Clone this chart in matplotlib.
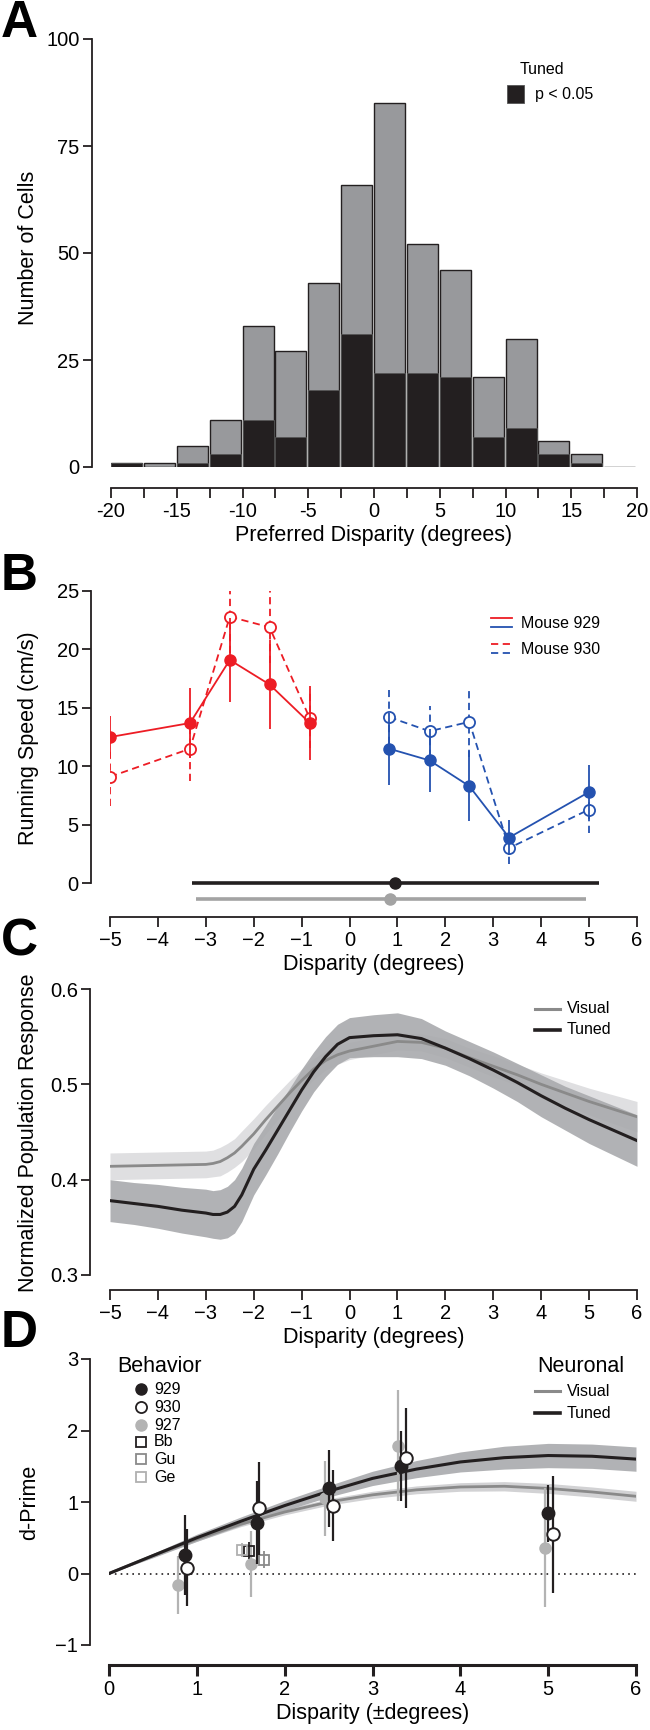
import numpy as np
import matplotlib
matplotlib.use('Agg')
import matplotlib.pyplot as plt
from matplotlib.lines import Line2D
from matplotlib.patches import Rectangle

plt.rcParams['font.family'] = ['Liberation Sans', 'DejaVu Sans']

# ---------------- data ----------------
# A: histogram of preferred disparity
bin_left = [-20, -17.5, -15, -12.5, -10, -7.5, -5, -2.5, 0, 2.5, 5, 7.5, 10, 12.5, 15, 17.5]
count_all = [1, 1, 5, 11, 33, 27, 43, 66, 85, 52, 46, 21, 30, 6, 3, 0]
count_tuned = [1, 0, 1, 3, 11, 7, 18, 31, 22, 22, 21, 7, 9, 3, 1, 0]

# B: running speed
red_x = [-5, -3.33, -2.5, -1.67, -0.83]
red929 = [12.5, 13.7, 19.1, 17.0, 13.7]
red929_err = [1.8, 3.0, 3.6, 3.8, 3.2]
red930 = [9.1, 11.5, 22.8, 21.9, 14.1]
red930_err = [2.5, 2.8, 3.1, 3.1, 2.5]
blue_x = [0.83, 1.67, 2.5, 3.33, 5]
blue929 = [11.5, 10.5, 8.3, 3.9, 7.8]
blue929_err = [3.1, 2.7, 3.0, 1.5, 2.3]
blue930 = [14.2, 13.0, 13.8, 3.0, 6.3]
blue930_err = [2.3, 2.2, 3.0, 1.4, 2.0]
range_mid = [0.95, 0.85]
range_lo = [-3.29, -3.2]
range_hi = [5.21, 4.93]
range_y = [0, -1.4]

# C: population response
c_x = [-5, -4.5, -4, -3.5, -3, -2.85, -2.7, -2.55, -2.4, -2.25, -2, -1.75, -1.5, -1.25,
       -1, -0.75, -0.5, -0.25, 0, 0.5, 1, 1.5, 2, 2.5, 3, 3.5, 4, 4.5, 5, 5.5, 6]
c_visual = [0.414, 0.4145, 0.415, 0.4155, 0.416, 0.417, 0.419, 0.423, 0.428, 0.435,
            0.448, 0.463, 0.477, 0.491, 0.504, 0.516, 0.525, 0.531, 0.535, 0.540,
            0.545, 0.544, 0.538, 0.528, 0.519, 0.510, 0.500, 0.491, 0.482, 0.474, 0.466]
c_visual_se = [0.014, 0.014, 0.014, 0.014, 0.014, 0.014, 0.015, 0.015, 0.015, 0.016,
               0.016, 0.015, 0.014, 0.013, 0.012, 0.011, 0.010, 0.010, 0.009, 0.009,
               0.009, 0.009, 0.010, 0.010, 0.011, 0.011, 0.012, 0.013, 0.014, 0.015, 0.016]
c_tuned = [0.378, 0.375, 0.372, 0.368, 0.365, 0.3635, 0.3635, 0.366, 0.372, 0.384,
           0.411, 0.431, 0.452, 0.473, 0.494, 0.513, 0.529, 0.542, 0.549, 0.551,
           0.552, 0.548, 0.538, 0.527, 0.515, 0.502, 0.488, 0.475, 0.463, 0.452, 0.441]
c_tuned_se = [0.022, 0.022, 0.023, 0.024, 0.025, 0.025, 0.026, 0.027, 0.028, 0.028,
              0.027, 0.026, 0.025, 0.023, 0.022, 0.021, 0.021, 0.021, 0.021, 0.022,
              0.023, 0.021, 0.018, 0.018, 0.019, 0.020, 0.022, 0.023, 0.025, 0.026, 0.027]

# D: d-prime
d_x = [0, 0.5, 1, 1.5, 2, 2.5, 3, 3.5, 4, 4.5, 5, 5.5, 6]
d_tuned = [0, 0.25, 0.5, 0.73, 0.95, 1.15, 1.33, 1.46, 1.56, 1.62, 1.65, 1.64, 1.60]
d_tuned_se = [0, 0.03, 0.05, 0.06, 0.07, 0.08, 0.10, 0.12, 0.14, 0.16, 0.17, 0.17, 0.17]
d_visual = [0, 0.25, 0.48, 0.69, 0.86, 1.0, 1.1, 1.17, 1.21, 1.22, 1.19, 1.14, 1.08]
d_visual_se = [0, 0.02, 0.03, 0.035, 0.04, 0.045, 0.05, 0.055, 0.06, 0.065, 0.07, 0.07, 0.07]

x929 = [0.87, 1.68, 2.50, 3.33, 5.00]
y929 = [0.26, 0.71, 1.19, 1.50, 0.84]
e929 = [0.56, 0.58, 0.54, 0.49, 0.40]
x930 = [0.89, 1.71, 2.55, 3.38, 5.05]
y930 = [0.08, 0.91, 0.95, 1.62, 0.55]
e930 = [0.54, 0.65, 0.50, 0.70, 0.82]
x927 = [0.79, 1.62, 2.46, 3.29, 4.96]
y927 = [-0.16, 0.13, 1.05, 1.79, 0.36]
e927 = [0.40, 0.46, 0.53, 0.78, 0.83]
monkeys = ['Bb', 'Gu', 'Ge']
monkey_x = [1.59, 1.77, 1.51]
monkey_y = [0.32, 0.19, 0.33]
monkey_e = [0.12, 0.12, 0.10]

# ---------------- style ----------------
W, H = 650, 1730
TICK = 14.5
LAB = 15.5
LEG = 11.5
INK = '#231f20'
RED = '#ed1c24'
BLUE = '#2452b0'
VIS_LINE = '#8a8a8a'
VIS_BAND = '#dfdfe1'
TUN_BAND = '#a9aaad'

fig = plt.figure(figsize=(W / 100, H / 100), dpi=100)


def add_ax(l, t, r, b):
    return fig.add_axes([l / W, 1 - b / H, (r - l) / W, (b - t) / H])


def fx(x):
    return x / W


def fy(y):
    return 1 - y / H


def style(ax, left_off, bottom_off, xtl=7, bottom_lw=1.3):
    ax.spines['top'].set_visible(False)
    ax.spines['right'].set_visible(False)
    ax.spines['left'].set_position(('outward', left_off))
    ax.spines['bottom'].set_position(('outward', bottom_off))
    ax.spines['left'].set_linewidth(1.3)
    ax.spines['bottom'].set_linewidth(bottom_lw)
    ax.spines['left'].set_color(INK)
    ax.spines['bottom'].set_color(INK)
    ax.tick_params(axis='y', length=6.5, width=1.3, labelsize=TICK, pad=2, color=INK)
    ax.tick_params(axis='x', length=xtl, width=bottom_lw, labelsize=TICK, pad=3, color=INK)
    ax.patch.set_visible(False)


def flabel(x, y, s, **kw):
    fig.text(fx(x), fy(y), s, **kw)


def fline(x1, x2, y, **kw):
    fig.add_artist(Line2D([fx(x1), fx(x2)], [fy(y), fy(y)], transform=fig.transFigure, **kw))


# ---------------- A ----------------
axA = add_ax(111, 39, 637, 467)
axA.bar(bin_left, count_all, width=2.36, align='edge', color='#98999c',
        edgecolor=INK, linewidth=1.0, zorder=2)
axA.bar(bin_left, count_tuned, width=2.36, align='edge', color=INK,
        edgecolor='#555555', linewidth=0.6, zorder=3)
axA.set_xlim(-20, 20)
axA.set_ylim(0, 100)
axA.set_yticks([0, 25, 50, 75, 100])
axA.set_xticks(bin_left + [20])
axA.set_xticklabels([('%d' % v) if v % 5 == 0 else '' for v in bin_left + [20]])
style(axA, 14, 15)
axA.set_xlabel('Preferred Disparity (degrees)', fontsize=LAB, labelpad=3)
axA.set_ylabel('Number of Cells', fontsize=LAB, va='center')
axA.yaxis.set_label_coords((29 - 111) / 526, 0.512)

flabel(542, 69, 'Tuned', fontsize=LEG, ha='center', va='center')
fig.add_artist(Rectangle((fx(507), fy(103)), 17 / W, 18 / H, transform=fig.transFigure,
                         facecolor=INK, edgecolor='#555555', lw=0.6))
flabel(535, 95, 'p < 0.05', fontsize=LEG, ha='left', va='center')

# ---------------- B ----------------
axB = add_ax(110, 591, 637, 917)


def speed(ax, x, y, e, col, filled):
    if filled:
        eb = ax.errorbar(x, y, yerr=e, fmt='o-', color=col, mfc=col, mec=col, ms=8,
                         lw=1.3, elinewidth=1.3, capsize=0, zorder=4)
    else:
        eb = ax.errorbar(x, y, yerr=e, fmt='o', color=col, mfc='white', mec=col,
                         mew=1.3, ms=8, lw=1.3, elinewidth=1.3, capsize=0, zorder=3)
        eb[0].set_linestyle((0, (4, 2.5)))
        eb[2][0].set_linestyle((0, (4, 2.5)))


speed(axB, red_x, red929, red929_err, RED, True)
speed(axB, red_x, red930, red930_err, RED, False)
speed(axB, blue_x, blue929, blue929_err, BLUE, True)
speed(axB, blue_x, blue930, blue930_err, BLUE, False)

for mid, lo, hi, yy, col in zip(range_mid, range_lo, range_hi, range_y, [INK, '#a3a3a3']):
    axB.errorbar([mid], [yy], xerr=[[mid - lo], [hi - mid]], fmt='o', color=col, ms=8,
                 elinewidth=2.6, capsize=0, clip_on=False, zorder=5)

axB.set_xlim(-5, 6)
axB.set_ylim(-2.9, 25)
axB.set_yticks([0, 5, 10, 15, 20, 25])
axB.set_xticks(range(-5, 7))
style(axB, 14, 0)
axB.spines['left'].set_bounds(0, 25)
axB.set_xlabel('Disparity (degrees)', fontsize=LAB, labelpad=3)
axB.set_ylabel('Running Speed (cm/s)', fontsize=LAB, va='center')
axB.yaxis.set_label_coords((29 - 110) / 527, 0.549)

fline(491, 512, 618, color=RED, lw=1.3)
fline(491, 512, 627, color=BLUE, lw=1.3)
fline(491, 512, 644, color=RED, lw=1.3, ls=(0, (4, 2.5)))
fline(491, 512, 653, color=BLUE, lw=1.3, ls=(0, (4, 2.5)))
flabel(521, 623, 'Mouse 929', fontsize=LEG, ha='left', va='center')
flabel(521, 649, 'Mouse 930', fontsize=LEG, ha='left', va='center')

# ---------------- C ----------------
axC = add_ax(110, 989, 637, 1275)
cv = np.array(c_visual)
cvs = np.array(c_visual_se)
ct = np.array(c_tuned)
cts = np.array(c_tuned_se)
axC.fill_between(c_x, cv - cvs, cv + cvs, color=VIS_BAND, lw=0, zorder=1)
axC.fill_between(c_x, ct - cts, ct + cts, color=TUN_BAND, alpha=0.9, lw=0, zorder=2)
axC.plot(c_x, c_visual, color=VIS_LINE, lw=2.0, zorder=3)
axC.plot(c_x, c_tuned, color=INK, lw=2.2, zorder=4)
axC.set_xlim(-5, 6)
axC.set_ylim(0.3, 0.6)
axC.set_yticks([0.3, 0.4, 0.5, 0.6])
axC.set_xticks(range(-5, 7))
style(axC, 14.5, 11)
axC.set_xlabel('Disparity (degrees)', fontsize=LAB, labelpad=3)
axC.set_ylabel('Normalized Population Response', fontsize=LAB, va='center')
axC.yaxis.set_label_coords((29 - 110) / 527, 0.497)

fline(535, 560, 1009, color=VIS_LINE, lw=2.2)
fline(535, 560, 1030, color=INK, lw=2.6)
flabel(567, 1009, 'Visual', fontsize=LEG, ha='left', va='center')
flabel(567, 1030, 'Tuned', fontsize=LEG, ha='left', va='center')

# ---------------- D ----------------
axD = add_ax(109, 1359, 636, 1645)
dv = np.array(d_visual)
dvs = np.array(d_visual_se)
dt = np.array(d_tuned)
dts = np.array(d_tuned_se)
axD.axhline(0, color=INK, lw=1.2, ls=(0, (1, 2.5)), zorder=1)
axD.fill_between(d_x, dv - dvs, dv + dvs, color='#d2d2d4', lw=0, zorder=1)
axD.fill_between(d_x, dt - dts, dt + dts, color=TUN_BAND, alpha=0.9, lw=0, zorder=2)
axD.plot(d_x, d_visual, color=VIS_LINE, lw=2.0, zorder=3)
axD.plot(d_x, d_tuned, color=INK, lw=2.2, zorder=4)

axD.errorbar(x927, y927, yerr=e927, fmt='o', color='#b3b3b3', ms=8, elinewidth=1.6,
             capsize=0, zorder=5)
mcol = {'Bb': INK, 'Gu': '#8a8a8a', 'Ge': '#b0b0b0'}
for m, xx, yy, ee in zip(monkeys, monkey_x, monkey_y, monkey_e):
    axD.errorbar([xx], [yy], yerr=[ee], fmt='s', color=mcol[m], mfc='none', mec=mcol[m],
                 mew=1.3, ms=7.5, elinewidth=1.3, capsize=0, zorder=5)
axD.errorbar(x929, y929, yerr=e929, fmt='o', color=INK, ms=9, elinewidth=1.6,
             capsize=0, zorder=6)
axD.errorbar(x930, y930, yerr=e930, fmt='o', color=INK, mfc='white', mec=INK, mew=1.4,
             ms=9, elinewidth=1.6, capsize=0, zorder=7)
axD.set_xlim(0, 6)
axD.set_ylim(-1, 3)
axD.set_yticks([-1, 0, 1, 2, 3])
axD.set_xticks(range(0, 7))
style(axD, 13.7, 14.4, xtl=8, bottom_lw=2.2)
axD.set_xlabel('Disparity (\u00b1degrees)', fontsize=LAB, labelpad=3)
axD.set_ylabel('d-Prime', fontsize=LAB, va='center')
axD.yaxis.set_label_coords((30 - 109) / 527, 0.497)

flabel(117, 1367, 'Behavior', fontsize=LAB, ha='left', va='center')
leg_y = [1389, 1407, 1425, 1442, 1459, 1477]
leg_names = ['929', '930', '927'] + monkeys
leg_style = [dict(marker='o', color=INK, mfc=INK, ms=8),
             dict(marker='o', color=INK, mfc='white', mew=1.3, ms=8),
             dict(marker='o', color='#b3b3b3', mfc='#b3b3b3', ms=8)]
leg_style += [dict(marker='s', color=mcol[m], mfc='none', mew=1.3, ms=7.5) for m in monkeys]
for yy, name, st in zip(leg_y, leg_names, leg_style):
    fig.add_artist(Line2D([fx(141)], [fy(yy)], transform=fig.transFigure, ls='none', **st))
    flabel(154, yy, name, fontsize=LEG, ha='left', va='center')

flabel(537, 1367, 'Neuronal', fontsize=LAB, ha='left', va='center')
fline(535, 560, 1391, color=VIS_LINE, lw=2.2)
fline(535, 560, 1413, color=INK, lw=2.6)
flabel(567, 1391, 'Visual', fontsize=LEG, ha='left', va='center')
flabel(567, 1413, 'Tuned', fontsize=LEG, ha='left', va='center')

# panel letters
for letter, yb in zip('ABCD', [37, 590, 956, 1347]):
    flabel(1, yb, letter, fontsize=37, fontweight='bold', ha='left', va='baseline')

fig.savefig('out.png', dpi=100)
